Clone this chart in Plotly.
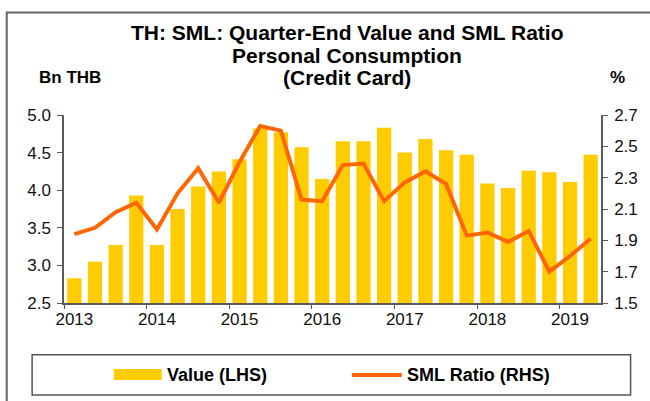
import plotly.graph_objects as go

# quarter-end data, 2013Q1 .. 2019Q2
value_bn = [2.83, 3.05, 3.27, 3.93, 3.27, 3.75, 4.05, 4.25, 4.41, 4.82, 4.77, 4.57, 4.15,
            4.65, 4.65, 4.83, 4.50, 4.68, 4.53, 4.47, 4.09, 4.03, 4.26, 4.24, 4.11, 4.47]
sml_ratio = [1.94, 1.98, 2.08, 2.14, 1.97, 2.20, 2.36, 2.14, 2.40, 2.63, 2.60, 2.16, 2.15,
             2.38, 2.39, 2.15, 2.27, 2.34, 2.26, 1.93, 1.95, 1.89, 1.96, 1.70, 1.80, 1.91]
years = ["2013", "2014", "2015", "2016", "2017", "2018", "2019"]
title_lines = ["TH: SML: Quarter-End Value and SML Ratio", "Personal Consumption", "(Credit Card)"]

x_pos = [i + 0.5 for i in range(len(value_bn))]
year_pos = [4 * i + 0.5 for i in range(len(years))]

BAR = "#FFCC00"
LINE = "#FF6600"
AXIS = "#5a5a5a"
FONT = "Liberation Sans, Arial, sans-serif"

# paper coords: plot area is x 64..603 px, y 115..303 px
def px(x):
    return (x - 64) / 539

def py(y):
    return (303 - y) / 188

fig = go.Figure()
fig.add_trace(go.Bar(x=x_pos, y=value_bn, width=0.69, marker=dict(color=BAR, line=dict(width=0)),
                     name="Value (LHS)", showlegend=False))
fig.add_trace(go.Scatter(x=x_pos, y=sml_ratio, mode="lines", line=dict(color=LINE, width=4),
                         yaxis="y2", name="SML Ratio (RHS)", showlegend=False))

fig.update_layout(
    width=650, height=401,
    margin=dict(l=64, r=47, t=115, b=98),
    paper_bgcolor="white", plot_bgcolor="white",
    font=dict(family=FONT, size=17, color="#111111"),
    xaxis=dict(range=[0, 26], tickvals=year_pos, ticktext=years, ticks="", showgrid=False,
               showline=True, linecolor=AXIS, linewidth=1.5, zeroline=False,
               minor=dict(tick0=0, dtick=4, ticks="outside", ticklen=4, tickcolor=AXIS, showgrid=False),
               tickfont=dict(size=17)),
    yaxis=dict(range=[2.5, 5.0], dtick=0.5, tickformat=".1f", ticks="outside", ticklen=5,
               tickcolor=AXIS, showgrid=False, showline=True, linecolor=AXIS, linewidth=1.5,
               zeroline=False, tickfont=dict(size=17), ticklabelstandoff=3),
    yaxis2=dict(range=[1.5, 2.7], tick0=1.5, dtick=0.2, tickformat=".1f", overlaying="y", side="right",
                ticks="outside", ticklen=5, tickcolor=AXIS, showgrid=False, showline=True,
                linecolor=AXIS, linewidth=1.5, zeroline=False, tickfont=dict(size=17),
                ticklabelstandoff=3),
    showlegend=False,
)

shapes = [
    # outer frame
    dict(type="rect", xref="paper", yref="paper", x0=px(6.5), x1=px(662), y0=py(412), y1=py(12.5),
         line=dict(color="#666666", width=2), fillcolor="rgba(0,0,0,0)", layer="below"),
    # legend box
    dict(type="rect", xref="paper", yref="paper", x0=px(32), x1=px(632.7), y0=py(395), y1=py(354.7),
         line=dict(color="#555555", width=1.5), fillcolor="rgba(0,0,0,0)"),
    # legend symbols
    dict(type="rect", xref="paper", yref="paper", x0=px(114), x1=px(162), y0=py(380), y1=py(369),
         line=dict(width=0), fillcolor=BAR),
    dict(type="line", xref="paper", yref="paper", x0=px(353), x1=px(403), y0=py(375), y1=py(375),
         line=dict(color=LINE, width=4)),
]
fig.update_layout(shapes=shapes)

annotations = []
for line_text, y_line in zip(title_lines, [32, 55, 77]):
    annotations.append(dict(text="<b>" + line_text + "</b>", x=px(348), y=py(y_line), xref="paper",
                            yref="paper", xanchor="center", yanchor="middle", showarrow=False,
                            font=dict(size=21, color="#000000")))
annotations += [
    dict(text="<b>Bn THB</b>", x=px(37), y=py(78), xref="paper", yref="paper", xanchor="left",
         yanchor="middle", showarrow=False, font=dict(size=17, color="#000000")),
    dict(text="<b>%</b>", x=px(610), y=py(78), xref="paper", yref="paper", xanchor="left",
         yanchor="middle", showarrow=False, font=dict(size=17, color="#000000")),
    dict(text="<b>Value (LHS)</b>", x=px(165), y=py(375), xref="paper", yref="paper", xanchor="left",
         yanchor="middle", showarrow=False, font=dict(size=18, color="#000000")),
    dict(text="<b>SML Ratio (RHS)</b>", x=px(406), y=py(375), xref="paper", yref="paper", xanchor="left",
         yanchor="middle", showarrow=False, font=dict(size=18, color="#000000")),
]
fig.update_layout(annotations=annotations)

fig.write_html("out.html", config={"displayModeBar": False},
               post_script="document.body.style.margin='0px';")
